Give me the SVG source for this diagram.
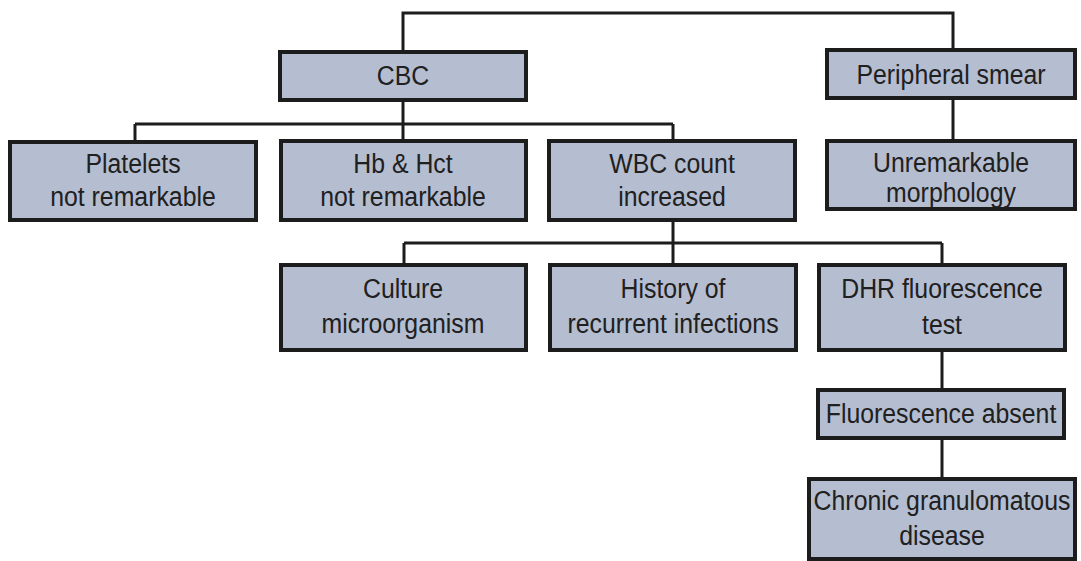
<svg xmlns="http://www.w3.org/2000/svg" width="1081" height="561" viewBox="0 0 1081 561">
  <style>
    .box { fill: #b5bdd0; stroke: #1c1c1c; stroke-width: 4; }
    .link { fill: none; stroke: #1c1c1c; stroke-width: 3; }
    .lbl { font-family: "Liberation Sans", Arial, sans-serif; font-size: 27px; fill: #202020; text-anchor: middle; }
  </style>
  <rect width="1081" height="561" fill="#ffffff"/>

  <!-- connectors -->
  <g id="connectors">
    <path class="link" d="M403,50 V13 H953 V48"/>
    <path class="link" d="M403,102 V139"/>
    <path class="link" d="M135,124 H673"/>
    <path class="link" d="M135,124 V140"/>
    <path class="link" d="M673,124 V139"/>
    <path class="link" d="M953,100 V139"/>
    <path class="link" d="M673,222 V263"/>
    <path class="link" d="M404,243 H942"/>
    <path class="link" d="M404,243 V263"/>
    <path class="link" d="M942,243 V263"/>
    <path class="link" d="M942,352 V388"/>
    <path class="link" d="M942,440 V477"/>
  </g>

  <!-- nodes: labels are slightly condensed horizontally -->
  <g id="cbc">
    <rect class="box" x="280" y="52" width="246" height="48"/>
    <text class="lbl" transform="translate(403,0) scale(0.92,1)" x="0" y="85">CBC</text>
  </g>
  <g id="peripheral-smear">
    <rect class="box" x="827" y="50" width="248" height="48"/>
    <text class="lbl" transform="translate(951,0) scale(0.92,1)" x="0" y="84">Peripheral smear</text>
  </g>
  <g id="platelets">
    <rect class="box" x="10" y="142" width="246" height="78"/>
    <text class="lbl" transform="translate(133,0) scale(0.92,1)" x="0" y="173">Platelets</text>
    <text class="lbl" transform="translate(133,0) scale(0.92,1)" x="0" y="206">not remarkable</text>
  </g>
  <g id="hb-hct">
    <rect class="box" x="281" y="141" width="245" height="79"/>
    <text class="lbl" transform="translate(403,0) scale(0.92,1)" x="0" y="173">Hb &amp; Hct</text>
    <text class="lbl" transform="translate(403,0) scale(0.92,1)" x="0" y="206">not remarkable</text>
  </g>
  <g id="wbc">
    <rect class="box" x="549" y="141" width="246" height="79"/>
    <text class="lbl" transform="translate(672,0) scale(0.92,1)" x="0" y="173">WBC count</text>
    <text class="lbl" transform="translate(672,0) scale(0.92,1)" x="0" y="206">increased</text>
  </g>
  <g id="morphology">
    <rect class="box" x="827" y="141" width="248" height="68"/>
    <text class="lbl" transform="translate(951,0) scale(0.92,1)" x="0" y="172">Unremarkable</text>
    <text class="lbl" transform="translate(951,0) scale(0.92,1)" x="0" y="202">morphology</text>
  </g>
  <g id="culture">
    <rect class="box" x="281" y="265" width="245" height="85"/>
    <text class="lbl" transform="translate(403,0) scale(0.92,1)" x="0" y="298">Culture</text>
    <text class="lbl" transform="translate(403,0) scale(0.92,1)" x="0" y="333">microorganism</text>
  </g>
  <g id="history">
    <rect class="box" x="550" y="265" width="246" height="85"/>
    <text class="lbl" transform="translate(673,0) scale(0.92,1)" x="0" y="298">History of</text>
    <text class="lbl" transform="translate(673,0) scale(0.92,1)" x="0" y="333">recurrent infections</text>
  </g>
  <g id="dhr">
    <rect class="box" x="819" y="265" width="246" height="85"/>
    <text class="lbl" transform="translate(942,0) scale(0.92,1)" x="0" y="298">DHR fluorescence</text>
    <text class="lbl" transform="translate(942,0) scale(0.92,1)" x="0" y="334">test</text>
  </g>
  <g id="fluorescence-absent">
    <rect class="box" x="818" y="390" width="246" height="48"/>
    <text class="lbl" transform="translate(941,0) scale(0.92,1)" x="0" y="423">Fluorescence absent</text>
  </g>
  <g id="cgd">
    <rect class="box" x="809" y="479" width="266" height="80"/>
    <text class="lbl" transform="translate(942,0) scale(0.92,1)" x="0" y="510">Chronic granulomatous</text>
    <text class="lbl" transform="translate(942,0) scale(0.92,1)" x="0" y="545">disease</text>
  </g>
</svg>
